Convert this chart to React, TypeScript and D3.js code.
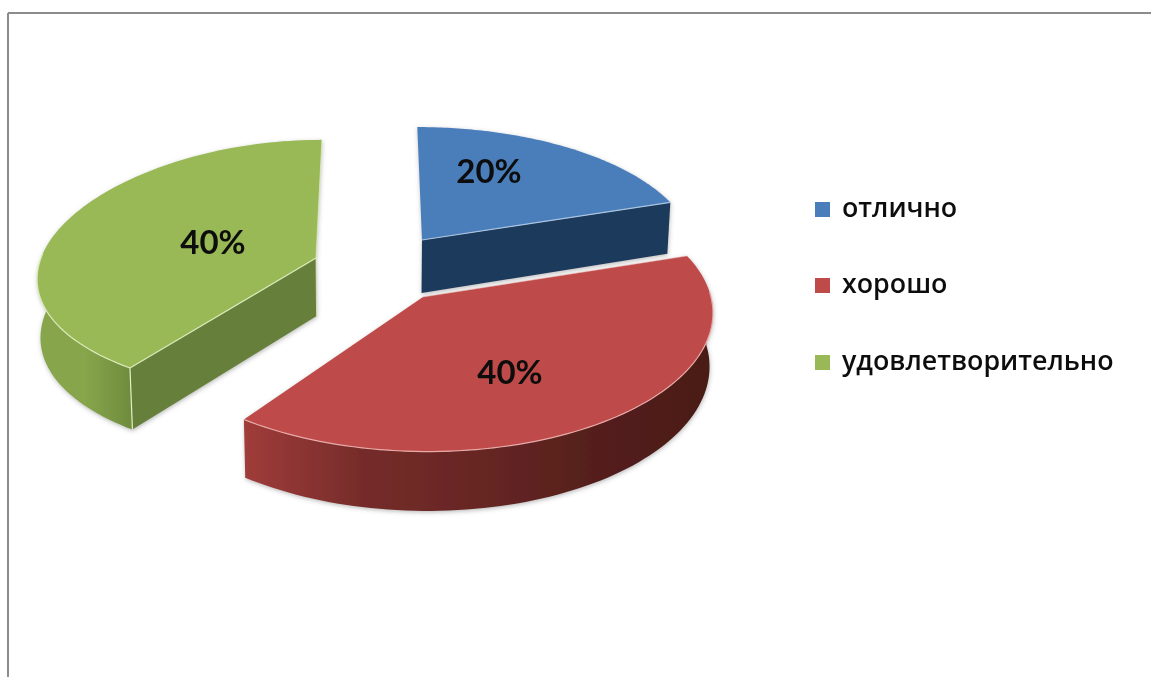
import React from "react";
import * as d3 from "d3";

const categories = ["отлично", "хорошо", "удовлетворительно"];
const shares = [20, 40, 40];
const dataLabels = ["20%", "40%", "40%"];

// Geometry of each exploded, perspective-projected slice
const sliceLayout = [
  { ox: 422, oy: 240, r: 271, k: 125.5, p: 0.1, px: 0.1, depth: 53, lx: 67, ly: -68 },
  { ox: 423, oy: 297, r: 288, k: 138, p: 0.12, px: 0.1, depth: 53, lx: 87, ly: 76 },
  { ox: 316, oy: 258, r: 275, k: 128, p: 0.077, px: 0.15, depth: 58, lx: -103, ly: -15 },
];
const sliceColors = [
  { top: "#4a7ebb", wall: "#1f3a5c", edge: "#b4cbe6", stops: ["#1f3a5c", "#1f3a5c"], mark: "#4a7ebb" },
  { top: "#be4b48", wall: "#7a2e2c", edge: "#eeb4b2", stops: ["#a03c3a", "#762c2a", "#672623", "#551f1c", "#4a1a17"], mark: "#be4b48" },
  { top: "#98b954", wall: "#66803a", edge: "#e2efc4", stops: ["#87a64b", "#87a64b", "#6e8b3d"], mark: "#98b954" },
];
const drawOrder = [2, 0, 1];
const legendMarkerX = 815;
const legendTextX = 842;
const legendBaselines = [217, 293, 370];
const vanishX = 375;
const W = 1151;
const H = 677;

type Layout = (typeof sliceLayout)[number];

function project(l: Layout, a: number, rad: number, z: number): [number, number] {
  const u = rad * Math.sin(a);
  const v = -rad * Math.cos(a);
  const s = 1 + l.p * v;
  const sx = 1 + l.px * v;
  const x0 = l.ox + l.r * u * sx + (vanishX - l.ox) * 0.1 * -v;
  const y0 = l.oy + l.k * v * s;
  return [x0 + (vanishX - x0) * 0.01 * z, y0 + z * l.depth * s];
}

const line = d3.line<[number, number]>().curve(d3.curveLinear);

function arcPts(l: Layout, a0: number, a1: number, z: number): [number, number][] {
  const n = 90;
  return d3.range(n + 1).map((i) => project(l, a0 + ((a1 - a0) * i) / n, 1, z));
}

export default function App() {
  const arcs = d3
    .pie<number>()
    .sort(null)
    .startAngle(0)
    .endAngle(2 * Math.PI)(shares);

  const legendY = d3
    .scaleOrdinal<string, number>()
    .domain(categories)
    .range(legendBaselines);

  return (
    <svg
      width={W}
      height={H}
      viewBox={`0 0 ${W} ${H}`}
      style={{ position: "absolute", left: 0, top: 0, background: "#ffffff" }}
    >
      <defs>
        <filter id="soft" x="-5%" y="-5%" width="110%" height="110%">
          <feGaussianBlur stdDeviation="0.75" />
        </filter>
        <filter id="shadow" x="-10%" y="-10%" width="120%" height="120%">
          <feDropShadow dx="0.5" dy="1.5" stdDeviation="2" floodColor="#555555" floodOpacity="0.4" />
        </filter>
        {sliceColors.map((c, i) => (
          <linearGradient id={`wall${i}`} key={i} x1="0" x2="1" y1="0" y2="0">
            {c.stops.map((s, j) => (
              <stop key={j} offset={c.stops.length > 1 ? j / (c.stops.length - 1) : 0} stopColor={s} />
            ))}
          </linearGradient>
        ))}
      </defs>
      <g filter="url(#soft)">
        <line x1={8} x2={8} y1={13} y2={H} stroke="#8c8c8c" strokeWidth={2} />
        <line x1={8} x2={W} y1={13} y2={13} stroke="#8c8c8c" strokeWidth={2} />

        {drawOrder.map((i) => {
          const arc = arcs[i];
          const l = sliceLayout[i];
          const c = sliceColors[i];
          const apex = project(l, 0, 0, 0);
          const apexLow = project(l, 0, 0, 1);
          const topEdge = arcPts(l, arc.startAngle, arc.endAngle, 0);
          const lowEdge = arcPts(l, arc.startAngle, arc.endAngle, 1);
          const topFace = [apex, ...topEdge];
          const isFront = (_: unknown, j: number) => {
            const a = arc.startAngle + ((arc.endAngle - arc.startAngle) * j) / (topEdge.length - 1);
            return Math.cos(a) < 0.05;
          };
          const rim = topEdge.filter(isFront);
          const rimLow = lowEdge.filter(isFront);
          const outer = [...rim, ...rimLow.slice().reverse()];
          const s0 = topEdge[0];
          const s1 = lowEdge[0];
          const e0 = topEdge[topEdge.length - 1];
          const e1 = lowEdge[lowEdge.length - 1];
          // Only the slice's right-hand cut is visible when it faces the viewer
          const showCut = i === 0 ? [apex, e0, e1, apexLow] : i === 2 ? [apex, s0, s1, apexLow] : null;
          return (
            <g key={i}>
              <g filter="url(#shadow)">
                {outer.length > 0 ? <path d={line(outer)! + "Z"} fill={`url(#wall${i})`} /> : null}
                {showCut ? <path d={line(showCut)! + "Z"} fill={c.wall} /> : null}
                <path d={line(topFace)! + "Z"} fill={c.top} />
              </g>
              {rim.length > 0 ? <path d={line(rim)!} fill="none" stroke={c.edge} strokeWidth={1.2} opacity={0.9} /> : null}
              {i === 0 ? <path d={line([apex, e0])!} fill="none" stroke={c.edge} strokeWidth={1.2} opacity={0.9} /> : null}
              {i === 1 ? <path d={line([apex, s0])!} fill="none" stroke={c.edge} strokeWidth={1} opacity={0.5} /> : null}
              {i === 2 ? (
                <>
                  <path d={line([apex, s0])!} stroke={c.edge} strokeWidth={1.2} fill="none" opacity={0.9} />
                  <path d={line([s0, s1])!} stroke={c.edge} strokeWidth={1.2} fill="none" />
                  <path d={line([e0, apex, apexLow])!} stroke={c.edge} strokeWidth={1} fill="none" opacity={0.7} />
                </>
              ) : null}
            </g>
          );
        })}

        {sliceLayout.map((l, i) => (
          <text
            key={i}
            x={l.ox + l.lx}
            y={l.oy + l.ly + 11}
            textAnchor="middle"
            fontFamily="Lato, 'Open Sans', sans-serif"
            fontWeight={700}
            fontSize={33}
            fill="#0d0d0d"
          >
            {dataLabels[i]}
          </text>
        ))}

        {categories.map((name, i) => (
          <g key={name}>
            <rect x={legendMarkerX} y={(legendY(name) as number) - 15} width={15} height={15} fill={sliceColors[i].mark} />
            <text
              x={legendTextX}
              y={legendY(name)}
              fontFamily="'Open Sans', sans-serif"
              fontWeight={600}
              fontSize={26.8}
              fill="#111111"
            >
              {name}
            </text>
          </g>
        ))}
      </g>
    </svg>
  );
}
